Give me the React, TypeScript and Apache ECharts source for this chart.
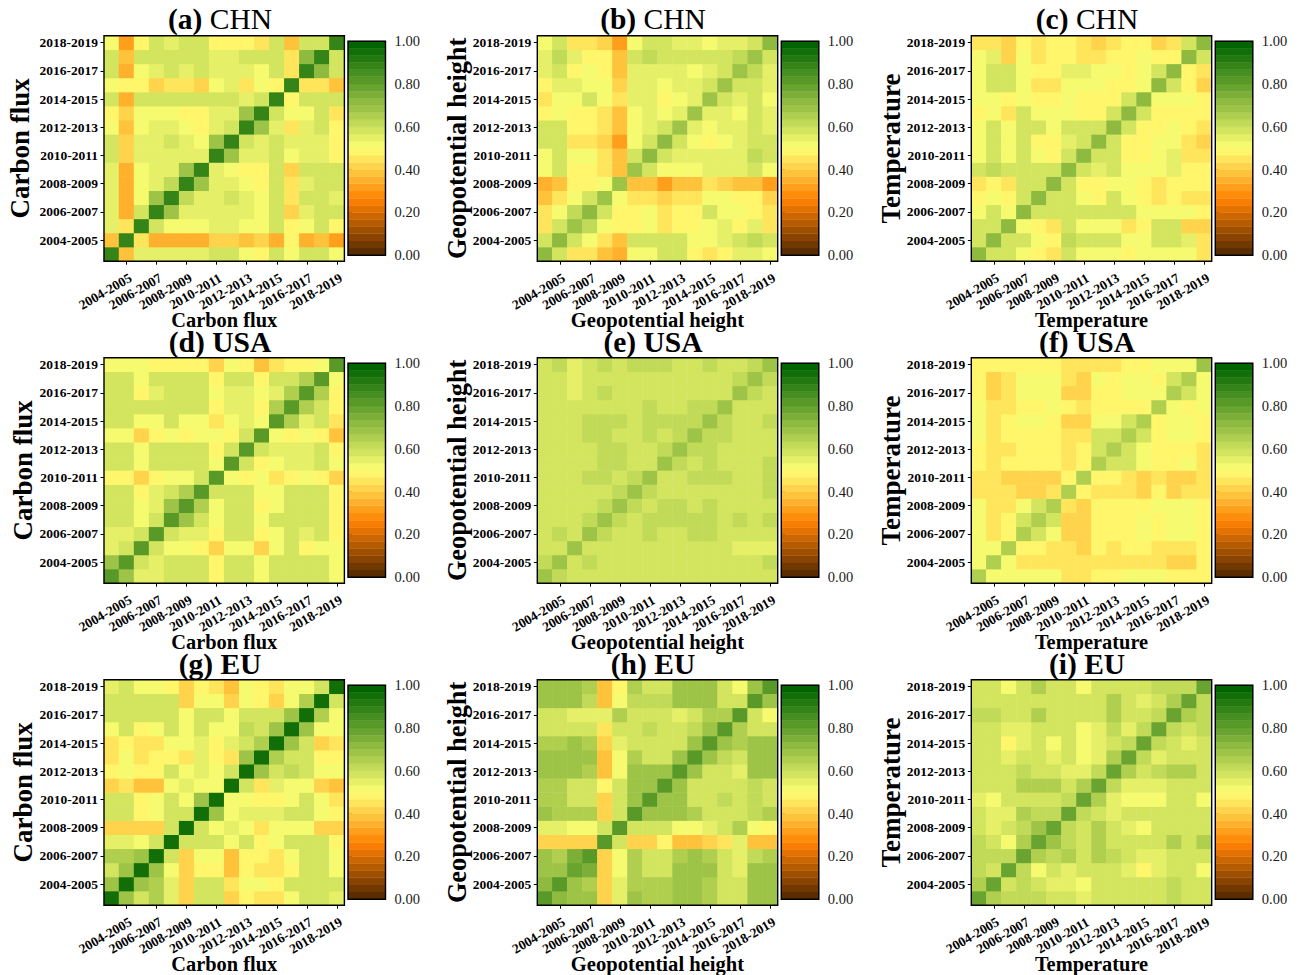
import React, { useEffect, useRef } from "react";
import * as echarts from "echarts";

const categories = ["2003-2004","2004-2005","2005-2006","2006-2007","2007-2008","2008-2009","2009-2010","2010-2011","2011-2012","2012-2013","2013-2014","2014-2015","2015-2016","2016-2017","2017-2018","2018-2019"];
const colorbarTicks = [0, 0.2, 0.4, 0.6, 0.8, 1];
const BAND_COUNT = 30;

// Lower triangles (symmetric correlation matrices), hundredths; row 0 is the bottom row.
const chnCarbon = [
[90],
[40,90],
[56,45,90],
[56,36,60,90],
[56,36,52,70,90],
[56,35,52,56,62,90],
[56,35,52,56,56,70,90],
[60,41,56,56,56,56,56,90],
[60,41,56,56,60,56,52,70,90],
[53,38,52,56,56,52,50,56,60,90],
[50,41,52,52,52,50,50,56,56,68,90],
[60,36,57,60,60,60,57,60,60,56,60,90],
[53,50,50,41,44,44,41,52,56,45,53,50,90],
[58,34,52,56,60,56,60,56,56,56,53,60,45,90],
[60,38,60,60,57,57,57,56,56,60,57,60,46,72,90],
[53,31,50,57,54,57,60,50,50,50,44,57,37,60,60,90],
];
const chnHeight = [
[71],
[58,71],
[45,58,70],
[44,52,62,71],
[38,45,53,60,70],
[35,38,50,50,53,70],
[53,57,50,50,45,38,70],
[53,60,52,52,45,38,60,71],
[57,57,44,44,41,33,52,60,71],
[57,57,50,50,44,37,52,56,60,70],
[50,52,50,50,44,37,52,56,52,56,70],
[46,52,52,58,53,46,56,56,50,52,56,70],
[50,56,56,53,53,43,56,56,51,56,56,60,70],
[54,60,50,53,50,40,56,56,56,56,53,56,60,70],
[54,63,54,50,50,38,58,62,57,57,57,57,57,62,70],
[53,58,44,44,41,32,53,58,58,55,55,51,54,54,58,72],
];
const chnTemp = [
[72],
[60,72],
[57,60,72],
[53,57,52,72],
[50,53,50,60,72],
[44,50,44,57,57,72],
[58,62,58,60,57,57,72],
[52,57,52,57,52,50,60,72],
[52,57,52,57,50,50,56,60,72],
[52,57,52,57,57,52,57,57,57,72],
[50,53,44,57,53,53,53,50,50,58,72],
[53,53,50,53,50,50,53,50,50,50,57,72],
[53,57,57,52,44,44,52,52,52,50,50,53,72],
[53,60,58,52,50,50,56,56,53,53,50,53,60,72],
[52,55,42,52,44,50,50,44,44,50,50,53,50,50,72],
[45,45,41,50,45,50,50,45,42,45,50,50,42,45,57,72],
];
const usaCarbon = [
[82],
[67,82],
[56,60,82],
[56,56,60,82],
[60,60,52,60,82],
[60,60,52,56,68,82],
[60,60,50,56,60,65,82],
[50,50,41,50,53,53,60,82],
[57,57,52,57,57,57,57,53,82],
[57,57,52,57,57,57,57,50,60,82],
[52,52,41,50,53,50,53,53,50,57,82],
[60,60,52,52,57,52,52,44,52,56,53,82],
[60,60,57,57,60,60,57,50,56,56,50,65,82],
[60,60,50,56,60,60,60,53,56,56,53,56,65,82],
[57,60,52,57,57,57,57,50,57,57,50,57,60,65,82],
[53,53,53,50,50,50,50,42,53,50,39,44,50,50,53,82],
];
const usaHeight = [
[69],
[62,67],
[57,60,67],
[60,62,60,69],
[60,60,57,62,69],
[57,57,57,60,62,68],
[57,57,57,60,60,62,69],
[60,60,60,62,62,60,62,69],
[57,57,57,60,62,62,60,60,69],
[57,57,57,60,62,62,60,60,62,69],
[60,60,60,62,62,60,60,62,60,62,69],
[60,60,60,62,62,62,60,62,62,62,62,69],
[57,60,60,60,60,60,60,62,60,60,62,62,69],
[60,60,56,60,63,60,60,60,60,60,60,60,60,69],
[57,57,56,60,60,60,60,60,60,60,60,60,60,63,70],
[58,62,56,60,63,60,62,62,62,60,60,62,60,60,63,70],
];
const usaTemp = [
[66],
[52,66],
[52,52,66],
[53,44,50,66],
[53,44,50,58,66],
[53,44,44,53,58,66],
[44,44,44,41,41,44,66],
[44,44,41,41,41,41,50,66],
[50,46,50,50,50,50,46,50,66],
[50,46,44,50,50,50,46,50,57,66],
[53,46,50,50,50,50,44,44,57,60,66],
[53,46,50,53,53,50,41,41,53,53,58,66],
[53,46,44,50,50,53,50,44,50,50,50,50,66],
[50,42,44,52,52,52,41,41,50,50,52,52,52,66],
[50,42,44,52,52,52,44,41,53,50,52,52,50,60,66],
[50,50,50,50,50,50,46,46,46,46,50,50,52,52,52,67],
];
const euCarbon = [
[96],
[68,96],
[60,68,96],
[65,65,70,96],
[55,55,52,60,96],
[43,43,43,43,60,96],
[57,57,50,52,60,60,96],
[60,57,50,52,60,52,68,96],
[41,44,40,40,53,56,52,52,96],
[50,52,50,50,57,52,56,53,57,96],
[46,52,44,50,50,45,56,50,44,68,96],
[46,50,44,44,52,52,56,50,56,60,64,96],
[52,57,50,52,60,53,60,53,52,62,57,70,96],
[58,60,57,60,60,53,58,57,52,60,57,57,68,96],
[58,60,60,60,57,41,52,52,41,52,50,43,52,64,96],
[54,58,53,53,50,42,50,45,38,53,50,44,53,53,60,96],
];
const euHeight = [
[82],
[72,82],
[70,70,80],
[70,66,74,82],
[42,42,42,42,82],
[56,56,52,52,60,82],
[70,64,64,64,43,60,82],
[66,66,60,60,43,60,68,82],
[66,66,60,60,47,60,70,70,82],
[70,70,70,66,40,52,68,68,70,82],
[70,70,70,70,38,52,65,60,60,70,82],
[65,65,68,66,41,55,60,60,60,60,70,82],
[60,60,60,60,44,58,58,62,58,60,62,68,82],
[57,57,55,55,55,64,57,57,57,55,58,64,65,82],
[68,68,68,62,39,52,62,62,62,67,67,67,60,60,82],
[68,68,68,66,37,49,65,58,58,67,70,67,58,52,70,82],
];
const euTemp = [
[80],
[66,80],
[62,57,80],
[62,62,62,80],
[63,58,52,66,80],
[58,55,60,63,68,80],
[57,55,55,66,63,63,80],
[56,52,60,60,60,60,63,80],
[60,60,60,64,64,64,60,64,80],
[60,60,60,63,60,60,56,56,62,80],
[60,60,55,60,60,55,60,52,55,64,80],
[60,60,50,55,60,51,60,52,56,60,62,80],
[60,60,56,56,60,57,57,52,56,62,56,62,80],
[63,63,57,60,64,60,60,57,60,64,60,60,63,80],
[60,60,57,60,60,57,57,57,60,64,60,55,60,66,80],
[60,60,52,60,64,57,57,52,60,60,60,60,63,63,63,80],
];

const FONT = "Liberation Serif";
const COL_X = [104, 537.3, 971.3];
const COL_NAME_GAP = [[84, 81, 81], [80, 80, 80], [80, 80, 80]];
const COL_TITLE_X = [220, 653, 1087];
const ROW_Y = [35.7, 357.7, 679.7];
const ROW_TITLE_Y = [19, 341.5, 664];
const PLOT_W = 240.4;
const PLOT_H = 225.5;
const CB_DX = 244;
const CB_W = 37.5;
const CB_DY = 5.5;
const CB_H = 214;

type Panel = { tag: string; region: string; label: string; data: number[][]; nameSize: number; boldRegion: boolean };
const panels: Panel[] = [
  { tag: "(a)", region: "CHN", label: "Carbon flux", data: chnCarbon, nameSize: 27, boldRegion: false },
  { tag: "(b)", region: "CHN", label: "Geopotential height", data: chnHeight, nameSize: 26.3, boldRegion: false },
  { tag: "(c)", region: "CHN", label: "Temperature", data: chnTemp, nameSize: 27, boldRegion: false },
  { tag: "(d)", region: "USA", label: "Carbon flux", data: usaCarbon, nameSize: 27, boldRegion: true },
  { tag: "(e)", region: "USA", label: "Geopotential height", data: usaHeight, nameSize: 26.3, boldRegion: true },
  { tag: "(f)", region: "USA", label: "Temperature", data: usaTemp, nameSize: 27, boldRegion: true },
  { tag: "(g)", region: "EU", label: "Carbon flux", data: euCarbon, nameSize: 27, boldRegion: true },
  { tag: "(h)", region: "EU", label: "Geopotential height", data: euHeight, nameSize: 26.3, boldRegion: true },
  { tag: "(i)", region: "EU", label: "Temperature", data: euTemp, nameSize: 27, boldRegion: true },
];

const hex = (v: number) => Math.round(v).toString(16).padStart(2, "0");
const stops: [number, number[]][] = [
  [0, [0x5a, 0x2d, 0x00]],
  [0.25, [0xff, 0x80, 0x00]],
  [0.5, [0xff, 0xff, 0x73]],
  [1, [0x00, 0x64, 0x00]],
];
function cmap(t: number) {
  for (let i = 1; i < stops.length; i++) {
    if (t <= stops[i][0]) {
      const [a, ca] = stops[i - 1];
      const [b, cb] = stops[i];
      const f = (t - a) / (b - a);
      return "#" + ca.map((c, k) => hex(c + (cb[k] - c) * f)).join("");
    }
  }
  return "#006400";
}
const bandColors = Array.from({ length: BAND_COUNT }, (_, i) => cmap(i / (BAND_COUNT - 1)));

function cells(tri: number[][]) {
  const out: number[][] = [];
  for (let r = 0; r < tri.length; r++) {
    for (let c = 0; c < tri.length; c++) {
      const v = r >= c ? tri[r][c] : tri[c][r];
      out.push([c, r, v / 100]);
    }
  }
  return out;
}
const oddOnly = (i: number) => i % 2 === 1;

function buildOption() {
  const grid: any[] = [];
  const xAxis: any[] = [];
  const yAxis: any[] = [];
  const series: any[] = [];
  const title: any[] = [];
  const frames: any[] = [];
  const heatIdx: number[] = [];

  const frame = (x: number, y: number, width: number, height: number) => ({
    type: "rect", silent: true, z: 100,
    shape: { x, y, width, height },
    style: { fill: "none", stroke: "#000", lineWidth: 1.4 },
  });

  panels.forEach((p, idx) => {
    const col = idx % 3;
    const row = Math.floor(idx / 3);
    const x = COL_X[col];
    const y = ROW_Y[row];
    const g = grid.length;
    grid.push({ left: x, top: y, width: PLOT_W, height: PLOT_H, containLabel: false, outerBoundsMode: "none" });
    xAxis.push({
      gridIndex: g, type: "category", data: categories, boundaryGap: true,
      name: p.label, nameLocation: "middle", nameGap: 58.5, nameMoveOverlap: false,
      nameTextStyle: { fontFamily: FONT, fontWeight: "bold", fontSize: p.label.length > 12 ? 20.6 : 20.4, color: "#000", verticalAlign: "middle" },
      axisLine: { show: false },
      axisTick: { show: true, alignWithLabel: true, interval: oddOnly, length: 3.5, lineStyle: { color: "#000", width: 1 } },
      axisLabel: {
        show: true, interval: oddOnly, rotate: 30, align: "center", verticalAlign: "middle", margin: 18, hideOverlap: false,
        formatter: (v: string) => `{t|${v}}`,
        rich: { t: { fontFamily: FONT, fontWeight: "bold", fontSize: 13.5, color: "#000", padding: [0, 49, 0, 0] } },
      },
      splitLine: { show: false },
    });
    yAxis.push({
      gridIndex: g, type: "category", data: categories, boundaryGap: true,
      name: p.label, nameLocation: "middle", nameGap: COL_NAME_GAP[col][row], nameMoveOverlap: false,
      nameTextStyle: { fontFamily: FONT, fontWeight: "bold", fontSize: p.nameSize, color: "#000", verticalAlign: "middle" },
      axisLine: { show: false },
      axisTick: { show: true, alignWithLabel: true, interval: oddOnly, length: 3.5, lineStyle: { color: "#000", width: 1 } },
      axisLabel: { show: true, interval: oddOnly, margin: 6, fontFamily: FONT, fontWeight: "bold", fontSize: 13.5, color: "#000" },
      splitLine: { show: false },
    });
    heatIdx.push(series.length);
    series.push({
      type: "heatmap", xAxisIndex: g, yAxisIndex: g, data: cells(p.data),
      progressive: 0, emphasis: { disabled: true },
    });
    frames.push(frame(x, y, PLOT_W, PLOT_H));

    // colour bar
    const cb = grid.length;
    const cx = x + CB_DX;
    const cy = y + CB_DY;
    grid.push({ left: cx, top: cy, width: CB_W, height: CB_H, containLabel: false, outerBoundsMode: "none" });
    xAxis.push({ gridIndex: cb, type: "value", min: 0, max: 1, show: false });
    yAxis.push({
      gridIndex: cb, type: "value", min: 0, max: 1, interval: 0.2, position: "right",
      axisLine: { show: false },
      axisTick: { show: true, length: 4, lineStyle: { color: "#000", width: 1 } },
      axisLabel: {
        show: true, margin: 9, fontFamily: FONT, fontSize: 14.5, color: "#1a1a1a",
        formatter: (v: number) => colorbarTicks.includes(Math.round(v * 10) / 10) ? v.toFixed(2) : "",
      },
      splitLine: { show: false },
    });
    series.push({
      type: "custom", xAxisIndex: cb, yAxisIndex: cb, silent: true, clip: false,
      data: bandColors.map((_, i) => [i / BAND_COUNT, (i + 1) / BAND_COUNT, i]),
      encode: { y: [0, 1] },
      renderItem: (_: any, api: any) => {
        const a = api.coord([0, api.value(0)]);
        const b = api.coord([1, api.value(1)]);
        const color = bandColors[api.value(2)];
        return {
          type: "rect",
          shape: { x: a[0], y: b[1], width: b[0] - a[0], height: a[1] - b[1] },
          style: { fill: color, stroke: color, lineWidth: 0.4 },
        };
      },
    });
    frames.push(frame(cx, cy, CB_W, CB_H));

    const weight = p.boldRegion ? "bold" : "normal";
    title.push({
      text: `{b|${p.tag}} {n|${p.region}}`,
      left: COL_TITLE_X[col],
      top: ROW_TITLE_Y[row] - 15,
      textAlign: "center",
      padding: 0,
      textStyle: {
        fontFamily: FONT, fontSize: 29.5, color: "#000",
        rich: {
          b: { fontFamily: FONT, fontSize: 29.5, fontWeight: "bold", color: "#000" },
          n: { fontFamily: FONT, fontSize: 29.5, fontWeight: weight, color: "#000" },
        },
      },
    });
  });

  const pieces = bandColors.map((color, i) => ({ gt: i === 0 ? -0.01 : i / BAND_COUNT, lte: (i + 1) / BAND_COUNT, color }));

  return {
    animation: false,
    backgroundColor: "#fff",
    title, grid, xAxis, yAxis, series,
    visualMap: { type: "piecewise", show: false, seriesIndex: heatIdx, dimension: 2, pieces },
    graphic: { elements: frames },
  };
}

export default function App() {
  const ref = useRef<HTMLDivElement>(null);
  useEffect(() => {
    const chart = echarts.init(ref.current!, undefined, { renderer: "svg" });
    chart.setOption(buildOption() as any);
    return () => chart.dispose();
  }, []);
  return <div ref={ref} style={{ position: "absolute", left: 0, top: 0, width: 1299, height: 975 }} />;
}
